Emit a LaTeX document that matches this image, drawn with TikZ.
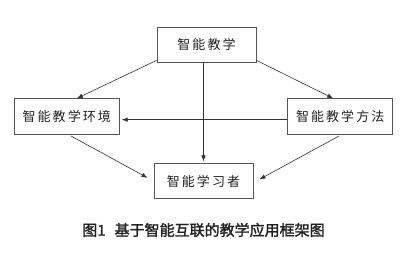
\documentclass[tikz,border=0pt]{standalone}
\usepackage{fontspec}
\usepackage{tikz}
\usetikzlibrary{arrows.meta, positioning}
\newfontfamily\cjk{Noto Sans CJK SC}[LetterSpace=16]
\newfontfamily\cjkcap{Noto Sans CJK SC}[FakeBold=1.8]
\definecolor{linegray}{HTML}{333333}
\definecolor{boxgray}{HTML}{555555}
\definecolor{darktext}{HTML}{222222}

\begin{document}
\begin{tikzpicture}[
    x=1pt, y=1pt,
    >={Latex[length=6pt, width=4.5pt]},
    box/.style={
      draw=boxgray, line width=0.7pt, fill=white,
      minimum height=36pt, inner sep=0pt,
      text=darktext, font=\cjk\fontsize{13}{15}\selectfont
    },
    link/.style={->, draw=linegray, line width=0.6pt}
  ]
  \useasboundingbox (0,0) rectangle (416,258);

  \node[box, minimum width=99pt, minimum height=35pt] (teach) at (206.5,213.5) {智能教学};

  \node[box, minimum width=105pt, below left=36pt and 37pt of teach] (env) {智能教学环境};

  \node[box, minimum width=105pt, below right=36pt and 31pt of teach] (method) {智能教学方法};

  \node[box, minimum width=99pt, minimum height=35pt, below=101pt of teach, xshift=-3pt] (learner) {智能学习者};

  \node[text=darktext, font=\cjkcap\fontsize{15}{17}\selectfont] (caption) at (203.5,28)
    {图1\hspace{0.6em}基于智能互联的教学应用框架图};

  \draw[link] ([yshift=2pt]teach.south west) -- ([xshift=10pt]env.north);
  \draw[link] ([yshift=2pt]teach.south east) -- ([xshift=-7pt]method.north);
  \draw[link, shorten >=2pt] (teach.south -| learner.north) -- (learner.north);
  \draw[link, shorten >=2pt] ([yshift=-3pt]method.west) -- ([yshift=-3pt]env.east);
  \draw[link, shorten <=2pt, shorten >=7pt] ([xshift=2.5pt]env.south) -- (learner.west);
  \draw[link, shorten <=2pt, shorten >=7pt] ([xshift=0.5pt]method.south) -- ([yshift=-1.5pt]learner.east);

\end{tikzpicture}
\end{document}
